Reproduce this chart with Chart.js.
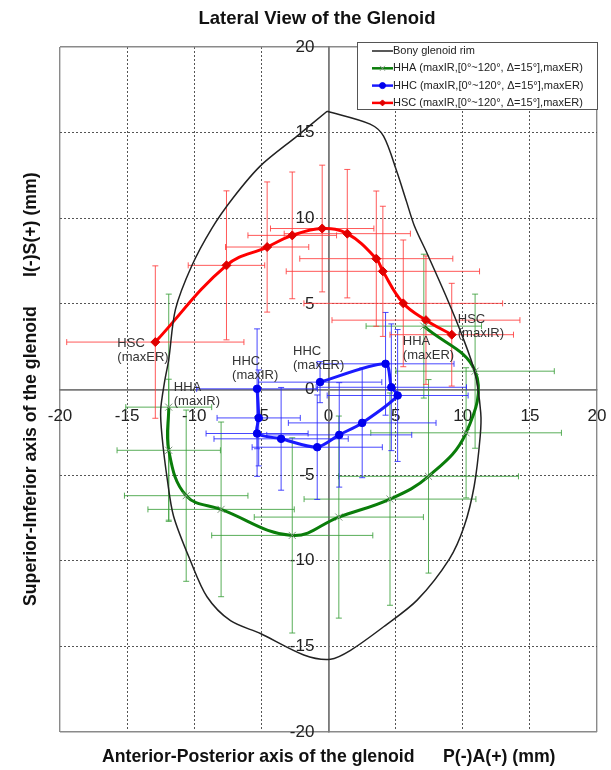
<!DOCTYPE html>
<html><head><meta charset="utf-8">
<script src="https://cdn.jsdelivr.net/npm/chart.js@4.4.0/dist/chart.umd.min.js"></script>
<style>html,body{margin:0;padding:0;background:#fff;} #wrap{width:611px;height:770px;position:relative}</style>
</head><body><div id="wrap"><canvas id="c"></canvas></div>
<script>
// ---- data (mm) ----
const tickValues = [-20, -15, -10, -5, 0, 5, 10, 15, 20];
const rimX = [-0.1, 3.1, 4.1, 5.1, 5.8, 6.4, 7.37, 8.86, 9.98, 10.9, 11.34, 11.3, 10.85, 10.1, 9.0, 6.6, 4.13, 1.64, 0.15, -1.84, -5.07, -7.3, -9.05, -10.3, -11.54, -12.0, -12.4, -12.5, -12.2, -11.9, -11.4, -10.2, -8.7, -7.1, -5.07, -2.34, -0.1];
const rimY = [16.25, 15.5, 14.8, 12.7, 11.0, 9.55, 7.9, 5.26, 3.1, 1.0, -1.36, -2.73, -5.65, -8.0, -9.9, -12.3, -13.84, -15.23, -15.75, -15.5, -14.25, -13.5, -12.1, -9.97, -7.4, -5.3, -2.73, -1.2, 0.5, 1.75, 4.68, 7.2, 9.4, 11.2, 13.06, 14.8, 16.25];

const hhaX = [-11.9, -11.9, -10.6, -8.0, -2.7, 0.77, 4.58, 7.45, 10.25, 10.92, 7.1];
const hhaY = [-1.03, -3.55, -6.2, -7.0, -8.52, -7.45, -6.4, -5.07, -2.53, 1.07, 3.7];
const hhaXErr = [3.2, 3.85, 4.6, 5.45, 6.0, 6.3, 6.4, 6.7, 7.1, 5.9, 4.3];
const hhaYErr = [6.6, 4.15, 5.0, 5.1, 5.7, 5.9, 6.2, 5.65, 3.8, 4.5, 4.2];

const hhcX = [-5.32, -5.2, -5.32, -3.53, -0.84, 0.8, 2.51, 5.15, 4.68, 4.25, -0.63];
const hhcY = [0.04, -1.66, -2.57, -2.88, -3.37, -2.65, -1.95, -0.35, 0.13, 1.5, 0.43];
const hhcXErr = [4.5, 3.1, 3.8, 5.0, 4.85, 5.4, 5.5, 5.25, 5.6, 5.1, 4.6];
const hhcYErr = [3.5, 2.8, 2.5, 3.0, 3.05, 3.05, 3.2, 3.85, 3.7, 3.0, 1.2];

const hscX = [9.18, 7.26, 5.57, 4.05, 3.56, 1.4, -0.47, -2.7, -4.57, -7.6, -12.9];
const hscY = [3.2, 4.05, 5.03, 6.9, 7.64, 9.1, 9.4, 9.0, 8.32, 7.25, 2.77];
const hscXErr = [4.6, 7.0, 7.4, 7.2, 5.7, 4.7, 3.85, 3.3, 3.1, 2.85, 6.6];
const hscYErr = [3.0, 3.75, 3.7, 3.8, 3.95, 3.75, 3.7, 3.7, 3.8, 4.35, 4.45];

const seriesLabels = ['Bony glenoid rim', 'HHA (maxIR,[0°~120°, Δ=15°],maxER)', 'HHC (maxIR,[0°~120°, Δ=15°],maxER)', 'HSC (maxIR,[0°~120°, Δ=15°],maxER)'];
const titleText = 'Lateral View of the Glenoid';
const xTitleParts = ['Anterior-Posterior axis of the glenoid', 'P(-)A(+) (mm)'];
const yTitleParts = ['Superior-Inferior axis of the glenoid', 'I(-)S(+) (mm)'];

const FONT = "'Liberation Sans', Arial, sans-serif";
const toPts = (xs, ys) => xs.map((x, i) => ({x, y: ys[i]}));

const errInfo = {
  1: {ex: hhaXErr, ey: hhaYErr, color: 'rgba(60,160,60,0.85)'},
  2: {ex: hhcXErr, ey: hhcYErr, color: 'rgba(40,40,255,0.85)'},
  3: {ex: hscXErr, ey: hscYErr, color: 'rgba(255,60,60,0.85)'}
};

const pointLabels = [
  {ds: 3, idx: 10, lines: ['HSC', '(maxER)'], dx: -38, dy: 1},
  {ds: 3, idx: 0, lines: ['HSC', '(maxIR)'], dx: 6, dy: -15},
  {ds: 2, idx: 0, lines: ['HHC', '(maxIR)'], dx: -25, dy: -27},
  {ds: 2, idx: 10, lines: ['HHC', '(maxER)'], dx: -27, dy: -31},
  {ds: 1, idx: 0, lines: ['HHA', '(maxIR)'], dx: 5, dy: -20},
  {ds: 1, idx: 10, lines: ['HHA', '(maxER)'], dx: -21, dy: 15}
];

const errorBarPlugin = {
  id: 'errorBars',
  beforeDatasetsDraw(chart) {
    const {ctx, scales: {x, y}} = chart;
    ctx.save();
    ctx.lineWidth = 1;
    const cap = 3;
    Object.keys(errInfo).forEach(k => {
      const info = errInfo[k];
      const ds = chart.data.datasets[k];
      ctx.strokeStyle = info.color;
      ds.data.forEach((p, i) => {
        const px = x.getPixelForValue(p.x), py = y.getPixelForValue(p.y);
        const x1 = x.getPixelForValue(p.x - info.ex[i]), x2 = x.getPixelForValue(p.x + info.ex[i]);
        const y1 = y.getPixelForValue(p.y - info.ey[i]), y2 = y.getPixelForValue(p.y + info.ey[i]);
        ctx.beginPath();
        ctx.moveTo(x1, py); ctx.lineTo(x2, py);
        ctx.moveTo(x1, py - cap); ctx.lineTo(x1, py + cap);
        ctx.moveTo(x2, py - cap); ctx.lineTo(x2, py + cap);
        ctx.moveTo(px, y1); ctx.lineTo(px, y2);
        ctx.moveTo(px - cap, y1); ctx.lineTo(px + cap, y1);
        ctx.moveTo(px - cap, y2); ctx.lineTo(px + cap, y2);
        ctx.stroke();
      });
    });
    ctx.restore();
  }
};

const textPlugin = {
  id: 'texts',
  afterDatasetsDraw(chart) {
    const {ctx, scales: {x, y}} = chart;
    ctx.save();
    ctx.fillStyle = '#333';
    ctx.font = '13px ' + FONT;
    ctx.textAlign = 'left';
    ctx.textBaseline = 'middle';
    pointLabels.forEach(l => {
      const p = chart.data.datasets[l.ds].data[l.idx];
      const px = x.getPixelForValue(p.x) + l.dx, py = y.getPixelForValue(p.y) + l.dy;
      l.lines.forEach((t, j) => ctx.fillText(t, px, py + j * 14));
    });
    ctx.restore();
  },
  afterDraw(chart) {
    const {ctx} = chart;
    ctx.save();
    ctx.fillStyle = '#111';
    ctx.textBaseline = 'middle';
    ctx.font = 'bold 18.5px ' + FONT;
    ctx.textAlign = 'center';
    ctx.fillText(titleText, 317, 19);
    ctx.font = 'bold 17.7px ' + FONT;
    ctx.textAlign = 'left';
    ctx.fillText(xTitleParts[0], 102, 757);
    ctx.fillText(xTitleParts[1], 443, 757);
    ctx.translate(31, 0);
    ctx.rotate(-Math.PI / 2);
    ctx.fillText(yTitleParts[0], -606, 0);
    ctx.fillText(yTitleParts[1], -277, 0);
    ctx.restore();

    // legend box
    ctx.save();
    const bx = 357, by = 42, bw = 240, bh = 67;
    ctx.fillStyle = '#fff';
    ctx.fillRect(bx, by, bw, bh);
    ctx.strokeStyle = '#555';
    ctx.lineWidth = 1;
    ctx.strokeRect(bx + 0.5, by + 0.5, bw, bh);
    ctx.font = '11px ' + FONT;
    ctx.textBaseline = 'middle';
    ctx.textAlign = 'left';
    chart.data.datasets.forEach((ds, i) => {
      const yy = by + 9 + i * 17.3;
      ctx.strokeStyle = ds.borderColor;
      ctx.lineWidth = i === 0 ? 1.5 : 2.5;
      ctx.beginPath(); ctx.moveTo(372, yy); ctx.lineTo(393, yy); ctx.stroke();
      if (i > 0) {
        ctx.fillStyle = ds.pointBackgroundColor;
        ctx.strokeStyle = ds.pointBorderColor;
        ctx.lineWidth = 1;
        Chart.helpers.drawPoint(ctx, {pointStyle: ds.pointStyle, radius: i === 1 ? 3.5 : 3, borderWidth: 1, rotation: 0}, 382.5, yy);
      }
      ctx.fillStyle = '#222';
      ctx.fillText(ds.label, 393, yy);
    });
    ctx.restore();
  }
};

const isEdge = (c) => c.tick && Math.abs(c.tick.value) === 20;
const isZero = (c) => c.tick && c.tick.value === 0;
const gridDash = (c) => (c.tick && !isEdge(c) && !isZero(c)) ? [2, 2] : [];
const gridColor = (c) => isZero(c) ? '#7a7a7a' : (isEdge(c) ? '#8a8a8a' : '#555');
const gridWidth = (c) => isZero(c) ? 1.6 : (isEdge(c) ? 1.4 : 1);
const noPad = (s) => { s.paddingLeft = 0; s.paddingRight = 0; s.paddingTop = 0; s.paddingBottom = 0; };

const axisCommon = {
  type: 'linear', min: -20, max: 20,
  afterBuildTicks: (s) => { s.ticks = tickValues.map(v => ({value: v})); },
  afterFit: noPad,
  grid: {color: gridColor, lineWidth: gridWidth, drawTicks: false},
  border: {display: true, color: '#7a7a7a', width: 1.6, dash: gridDash}
};

new Chart(document.getElementById('c'), {
  type: 'scatter',
  data: {
    datasets: [
      {label: seriesLabels[0], data: toPts(rimX, rimY), showLine: true, borderColor: '#222', borderWidth: 1.5, pointRadius: 0, tension: 0.3, fill: false},
      {label: seriesLabels[1], data: toPts(hhaX, hhaY), showLine: true, borderColor: '#0a7d0a', borderWidth: 3, tension: 0.4,
        pointStyle: 'crossRot', pointRadius: 5, pointBorderColor: '#7f957f', pointBackgroundColor: '#7f957f', pointBorderWidth: 1},
      {label: seriesLabels[2], data: toPts(hhcX, hhcY), showLine: true, borderColor: '#1a1aff', borderWidth: 3, tension: 0.25,
        pointStyle: 'circle', pointRadius: 3.8, pointBorderColor: '#0000ee', pointBackgroundColor: '#0000ee', pointBorderWidth: 1},
      {label: seriesLabels[3], data: toPts(hscX, hscY), showLine: true, borderColor: '#ff0000', borderWidth: 3, tension: 0.4,
        pointStyle: 'rectRot', pointRadius: 4.5, pointBorderColor: '#e00000', pointBackgroundColor: '#e00000', pointBorderWidth: 1}
    ]
  },
  options: {
    responsive: true, maintainAspectRatio: false, animation: false,
    layout: {padding: {left: 60, right: 14, top: 47, bottom: 38}},
    plugins: {legend: {display: false}, tooltip: {enabled: false}},
    scales: {
      x: Object.assign({}, axisCommon, {position: {y: 0},
        ticks: {autoSkip: false, maxRotation: 0, padding: 17, color: '#222', font: {size: 17, family: FONT}}}),
      y: Object.assign({}, axisCommon, {position: {x: 0},
        ticks: {autoSkip: false, padding: 0, color: '#222', font: {size: 17, family: FONT},
          callback: (v) => v + '   '}})
    }
  },
  plugins: [errorBarPlugin, textPlugin]
});
</script>
</body></html>
